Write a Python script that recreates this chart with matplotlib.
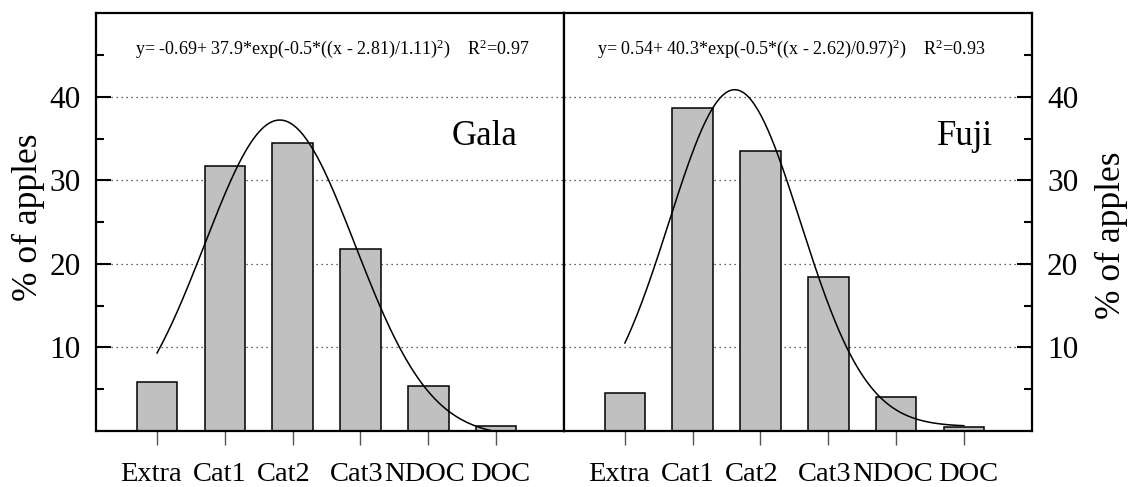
import numpy as np
import matplotlib
matplotlib.use('Agg')
import matplotlib.pyplot as plt
from matplotlib.ticker import FixedLocator

plt.rcParams['font.family'] = ['Liberation Serif', 'DejaVu Serif']
plt.rcParams['mathtext.fontset'] = 'custom'
plt.rcParams['mathtext.rm'] = 'Liberation Serif'
plt.rcParams['mathtext.it'] = 'Liberation Serif:italic'

# data
categories = ['Extra', 'Cat1', 'Cat2', 'Cat3', 'NDOC', 'DOC']
gala_pct = [5.9, 31.7, 34.5, 21.8, 5.4, 0.6]
fuji_pct = [4.6, 38.7, 33.5, 18.4, 4.1, 0.5]
# gaussian fit: y0, a, x0, b
gala_fit = [-0.69, 37.9, 2.81, 1.11]
fuji_fit = [0.54, 40.3, 2.62, 0.97]
gala_r2 = 0.97
fuji_r2 = 0.93

# small horizontal nudges (pixels) of the category labels, as in the original
label_shift = [-6, -5, -9, -4, -4, 4]


def fit_label(p, r2):
    return ('y= {0:.2f}+ {1:.1f}*exp(-0.5*((x - {2:.2f})/{3:.2f})$^2$)    R$^{{2}}$={4:.2f}'
            .format(p[0], p[1], p[2], p[3], r2))


def draw_panel(ax, values, p, r2, name, name_x, eq_x, side):
    x = np.arange(1, len(categories) + 1)
    ax.bar(x, values, width=0.6, color='#c0c0c0', edgecolor='black', linewidth=1.1, zorder=2)
    xs = np.linspace(1, len(categories), 200)
    ys = p[0] + p[1] * np.exp(-0.5 * ((xs - p[2]) / p[3]) ** 2)
    ax.plot(xs, ys, color='black', linewidth=1.1, zorder=3)

    ax.set_xlim(0.1, 7.0)
    ax.set_ylim(0, 50)
    ax.set_xticks(x)
    ax.tick_params(axis='x', direction='out', length=10, width=1.0, color='#555555', labelbottom=False)
    # category labels drawn as annotations so that each can be nudged
    for xi, cat, dx in zip(x, categories, label_shift):
        ax.annotate(cat, xy=(xi, 0), xycoords=('data', 'axes fraction'), xytext=(dx, -31),
                    textcoords='offset pixels', ha='center', va='top', fontsize=20.5)

    ax.yaxis.set_major_locator(FixedLocator([10, 20, 30, 40]))
    ax.yaxis.set_minor_locator(FixedLocator([5, 15, 25, 35, 45]))
    ax.grid(axis='y', which='major', linestyle=(0, (1, 3)), color='#333333', linewidth=0.9, zorder=0)
    ax.set_axisbelow(True)

    if side == 'left':
        ax.tick_params(axis='y', which='both', direction='in', left=True, right=False,
                       labelleft=True, labelright=False, labelsize=22.5, pad=11)
        ax.set_ylabel('% of apples', fontsize=25.5)
        ax.yaxis.set_label_coords(-0.109, 0.512)
    else:
        ax.tick_params(axis='y', which='both', direction='in', left=False, right=True,
                       labelleft=False, labelright=True, labelsize=22.5, pad=11)
        ax.yaxis.set_label_position('right')
        ax.set_ylabel('% of apples', fontsize=25.5)
        ax.yaxis.set_label_coords(1.135, 0.469)
    ax.tick_params(axis='y', which='major', length=11, width=1.5)
    ax.tick_params(axis='y', which='minor', length=6, width=1.5)

    for s in ax.spines.values():
        s.set_linewidth(1.6)

    ax.text(eq_x, 0.915, fit_label(p, r2), transform=ax.transAxes, ha='center', va='center', fontsize=13)
    ax.text(name_x, 0.684, name, transform=ax.transAxes, ha='left', va='baseline', fontsize=25)


fig = plt.figure(figsize=(11.3, 4.87), dpi=100)
ax1 = fig.add_axes([0.085, 0.115, 0.414, 0.858])
ax2 = fig.add_axes([0.499, 0.115, 0.414, 0.858])

draw_panel(ax1, gala_pct, gala_fit, gala_r2, 'Gala', 0.76, 0.505, 'left')
draw_panel(ax2, fuji_pct, fuji_fit, fuji_r2, 'Fuji', 0.797, 0.487, 'right')

fig.savefig('out.png', dpi=100)
